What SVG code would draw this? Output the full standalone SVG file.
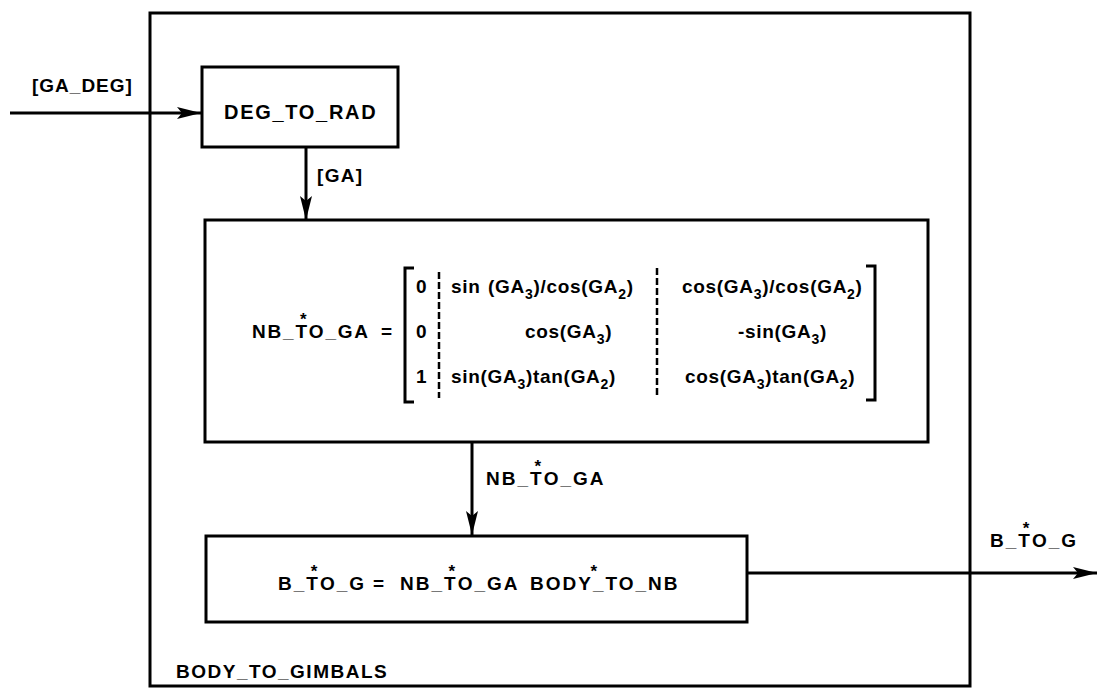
<svg xmlns="http://www.w3.org/2000/svg" width="1099" height="689" viewBox="0 0 1099 689">
<style>
.box{fill:none;stroke:#000;stroke-width:3}
.ln{fill:none;stroke:#000;stroke-width:3}
.dash{fill:none;stroke:#000;stroke-width:2.5;stroke-dasharray:7 3}
.br{fill:none;stroke:#000;stroke-width:3}
text{font-family:"Liberation Sans",Arial,sans-serif;fill:#000;font-weight:bold}
.t{font-size:19px}
.tb{font-size:20px}
.m{font-size:19px;letter-spacing:0.7px}
.sub{font-size:14px}
.a{font-size:17px}
</style>
<defs>
<marker id="ah" markerUnits="userSpaceOnUse" markerWidth="26" markerHeight="14" refX="24" refY="7" orient="auto">
<path d="M0,1 L24,7 L0,13 L5,7 z" fill="#000"/>
</marker>
</defs>
<rect width="1099" height="689" fill="#fff"/>
<g id="body_to_gimbals">
<rect class="box" x="150" y="13" width="820" height="673"/>
<text class="t" x="176" y="678" style="letter-spacing:1.5px">BODY_TO_GIMBALS</text>
</g>
<g id="connectors">
<line class="ln" x1="10" y1="113" x2="201" y2="113" marker-end="url(#ah)"/>
<text class="t" x="32" y="92" style="letter-spacing:1px">[GA_DEG]</text>
<line class="ln" x1="306" y1="147" x2="306" y2="220" marker-end="url(#ah)"/>
<text class="t" x="317" y="182" style="letter-spacing:1.3px">[GA]</text>
<line class="ln" x1="472" y1="443" x2="472" y2="535" marker-end="url(#ah)"/>
<text class="t" x="486" y="485" style="letter-spacing:2px">NB_T<tspan class="a" dx="-9.1" dy="-13">*</tspan><tspan dx="0.5" dy="13">O_GA</tspan></text>
<line class="ln" x1="747" y1="573" x2="1097" y2="573" marker-end="url(#ah)"/>
<text class="t" x="990" y="547" style="letter-spacing:2px">B_T<tspan class="a" dx="-9.1" dy="-13">*</tspan><tspan dx="0.5" dy="13">O_G</tspan></text>
</g>
<g id="deg_to_rad">
<rect class="box" x="202" y="67" width="196" height="80"/>
<text class="tb" x="224" y="119" style="letter-spacing:1.7px">DEG_TO_RAD</text>
</g>
<g id="nb_to_ga_matrix">
<rect class="box" x="205" y="220" width="723" height="222"/>
<text class="t" x="252" y="338" style="letter-spacing:1.8px">NB_T<tspan class="a" dx="-8.9" dy="-13">*</tspan><tspan dx="0.5" dy="13">O_GA</tspan><tspan x="381">=</tspan></text>
<path class="br" d="M414,268 H405 V402 H414"/>
<path class="br" d="M866,266 H875 V400 H866"/>
<line class="dash" x1="439" y1="272" x2="439" y2="398"/>
<line class="dash" x1="657" y1="268" x2="657" y2="397"/>
<text class="m" x="416" y="293">0</text>
<text class="m" x="416" y="338">0</text>
<text class="m" x="416" y="383">1</text>
<text class="m" x="451" y="293">sin<tspan x="488">(GA</tspan><tspan class="sub" dy="6">3</tspan><tspan dy="-6">)/cos(GA</tspan><tspan class="sub" dy="6">2</tspan><tspan dy="-6">)</tspan></text>
<text class="m" x="525" y="338">cos(GA<tspan class="sub" dy="6">3</tspan><tspan dy="-6">)</tspan></text>
<text class="m" x="451" y="383">sin(GA<tspan class="sub" dy="6">3</tspan><tspan dy="-6">)tan(GA</tspan><tspan class="sub" dy="6">2</tspan><tspan dy="-6">)</tspan></text>
<text class="m" x="682" y="293">cos(GA<tspan class="sub" dy="6">3</tspan><tspan dy="-6">)/cos(GA</tspan><tspan class="sub" dy="6">2</tspan><tspan dy="-6">)</tspan></text>
<text class="m" x="738" y="338">-sin(GA<tspan class="sub" dy="6">3</tspan><tspan dy="-6">)</tspan></text>
<text class="m" x="685" y="383">cos(GA<tspan class="sub" dy="6">3</tspan><tspan dy="-6">)tan(GA</tspan><tspan class="sub" dy="6">2</tspan><tspan dy="-6">)</tspan></text>
</g>
<g id="b_to_g_product">
<rect class="box" x="206" y="536" width="541" height="86"/>
<text class="t" x="278" y="590" style="letter-spacing:2px">B_T<tspan class="a" dx="-9.1" dy="-13">*</tspan><tspan dx="0.5" dy="13">O_G</tspan><tspan x="373">=</tspan><tspan x="400">NB_T</tspan><tspan class="a" dx="-9.1" dy="-13">*</tspan><tspan dx="0.5" dy="13">O_GA</tspan><tspan x="530">BODY</tspan><tspan class="a" dx="-2.3" dy="-13">*</tspan><tspan dx="-6.3" dy="13">_TO_NB</tspan></text>
</g>
</svg>
